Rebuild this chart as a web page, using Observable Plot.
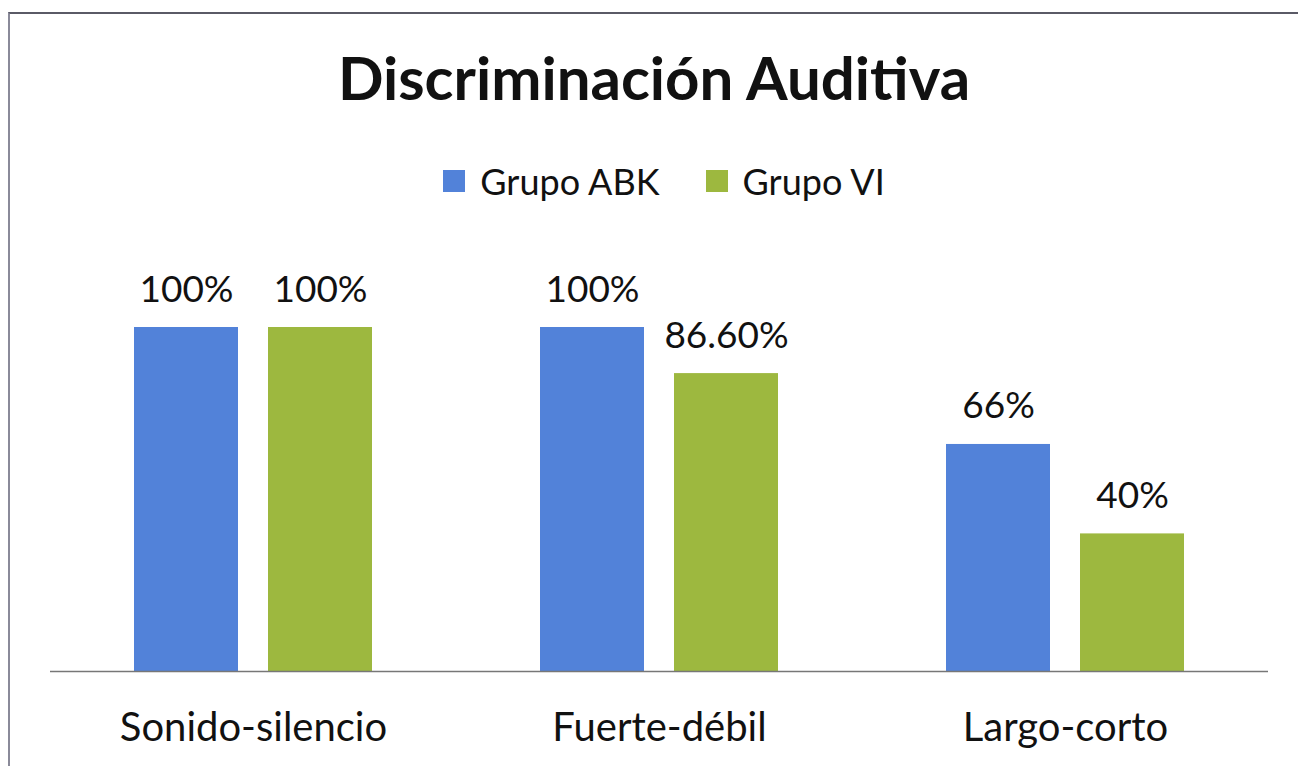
<!DOCTYPE html>
<html>
<head>
<meta charset="utf-8">
<script src="https://cdn.jsdelivr.net/npm/d3@7"></script>
<script src="https://cdn.jsdelivr.net/npm/@observablehq/plot@0.6"></script>
<style>
  html, body { margin: 0; padding: 0; background: #fff; overflow: hidden; }
  #wrap { position: relative; width: 1298px; height: 766px; font-family: Lato, "Open Sans", sans-serif; color: #111; }
  #frame { position: absolute; left: 8px; top: 12px; width: 1320px; height: 800px; border-top: 2px solid #5a5a66; border-left: 2px solid #8a8a99; }
  #title { position: absolute; left: 0; width: 1308px; top: 47px; text-align: center; font-weight: 700; font-size: 60px; line-height: 60px; }
  #legend { position: absolute; left: 0; width: 1328px; top: 161px; display: flex; justify-content: center; gap: 46px; font-size: 36px; line-height: 40px; }
  .item { display: flex; align-items: center; gap: 15px; }
  .sw { width: 22px; height: 22px; display: inline-block; }
  #chart { position: absolute; left: 0; top: 230px; }
</style>
</head>
<body>
<div id="wrap">
  <div id="frame"></div>
  <div id="title">Discriminación Auditiva</div>
  <div id="legend"></div>
  <div id="chart"></div>
</div>
<script>
const categories = ["Sonido-silencio", "Fuerte-débil", "Largo-corto"];
const groups = ["Grupo ABK", "Grupo VI"];
const abkValues = [100, 100, 66];
const viValues = [100, 86.6, 40];
const abkLabels = ["100%", "100%", "66%"];
const viLabels = ["100%", "86.60%", "40%"];
const colors = ["#5282D9", "#9DB83F"];

const data = [];
categories.forEach((c, i) => {
  data.push({cat: c, group: groups[0], value: abkValues[i], label: abkLabels[i]});
  data.push({cat: c, group: groups[1], value: viValues[i], label: viLabels[i]});
});

const legend = document.getElementById("legend");
groups.forEach((g, i) => {
  const it = document.createElement("div");
  it.className = "item";
  it.innerHTML = `<span class="sw" style="background:${colors[i]}"></span><span>${g}</span>`;
  legend.appendChild(it);
});

const chart = Plot.plot({
  width: 1298,
  height: 536,
  marginLeft: 50,
  marginRight: 30,
  marginTop: 97,
  marginBottom: 95,
  style: {fontFamily: "Lato, 'Open Sans', sans-serif", color: "#111", background: "transparent"},
  fx: {domain: categories, padding: 0},
  x: {domain: groups, paddingInner: 0.223, paddingOuter: 0.62, axis: null},
  y: {domain: [0, 100], axis: null},
  color: {domain: groups, range: colors},
  marks: [
    Plot.barY(data, {fx: "cat", x: "group", y: "value", fill: "group"}),
    Plot.ruleY([0], {stroke: "#777", strokeWidth: 1.5}),
    Plot.text(data, {fx: "cat", x: "group", y: "value", text: "label", lineAnchor: "bottom", dy: -26, fontSize: 37, fill: "#111"}),
    Plot.axisFx({anchor: "bottom", tickSize: 0, tickPadding: 41, fontSize: 40, label: null, fill: "#111"})
  ]
});
document.getElementById("chart").appendChild(chart);
</script>
</body>
</html>
